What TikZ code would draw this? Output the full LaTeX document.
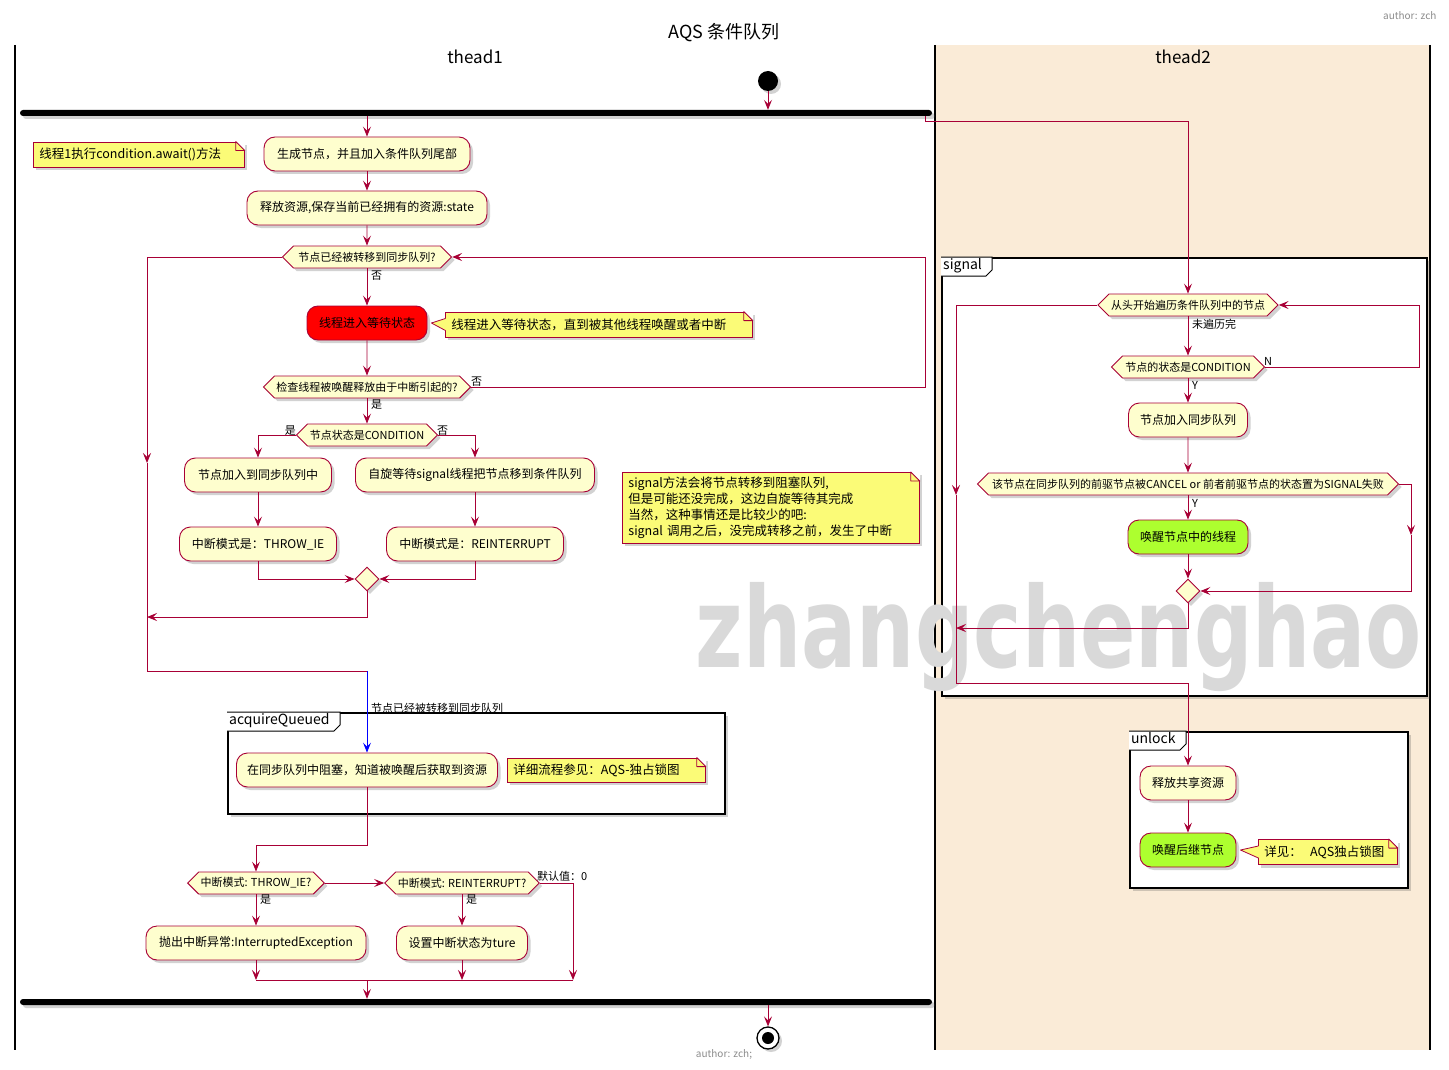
\documentclass[tikz,border=0pt]{standalone}
\usepackage{fontspec}
\setmainfont{Noto Sans CJK SC}
\newfontfamily\wmfont{DejaVu Sans}
\usetikzlibrary{arrows.meta,shapes.symbols,shapes.geometric,shadows,calc}
\definecolor{crim}{HTML}{A80036}
\definecolor{actfill}{HTML}{FEFECE}
\definecolor{notefill}{HTML}{FBFB77}
\definecolor{lanebg}{HTML}{FAEBD7}
\definecolor{grnfill}{HTML}{ADFF2F}
\definecolor{wmgray}{HTML}{D9D9D9}
\tikzset{
  shad/.style={drop shadow={shadow xshift=3pt,shadow yshift=-3pt,opacity=0.25,fill=black!70}},
  act/.style={draw=crim, fill=actfill, rounded corners=11pt, line width=0.9pt,
    minimum height=34pt, inner xsep=4pt, inner ysep=2pt, font=\fontsize{12}{14}\selectfont, shad},
  hexa/.style={signal, signal to=east and west, signal pointer angle=90, draw=crim, fill=actfill,
    line width=0.9pt, minimum height=22pt, inner xsep=2pt, inner ysep=1pt,
    font=\fontsize{11}{13}\selectfont, shad},
  merge/.style={diamond, draw=crim, fill=actfill, line width=0.9pt, minimum width=24pt,
    minimum height=24pt, inner sep=0pt, shad},
  notebox/.style={fill=notefill, draw=crim, line width=0.8pt, inner xsep=6pt, inner ysep=4pt,
    minimum height=25pt, font=\fontsize{12.5}{16}\selectfont, align=left, shad},
  bar/.style={fill=black, rounded corners=3pt, minimum width=912pt, minimum height=6pt,
    inner sep=0pt, shad},
  framebox/.style={draw=black, line width=1.6pt, fill=white, inner sep=0pt, shad},
  tabtxt/.style={anchor=north west, inner xsep=2pt, inner ysep=1pt, font=\fontsize{14}{16}\selectfont},
  lbl/.style={inner sep=1pt, font=\fontsize{11}{13}\selectfont},
  ln/.style={draw=crim, line width=0.9pt},
  arr/.style={draw=crim, line width=0.9pt, -{Stealth[length=10pt,width=8pt,inset=4pt]}},
}
\newcommand\notefold[1]{%
  \fill[white] ($(#1.north east)+(-9,0)$) -- ($(#1.north east)+(0.6,-0.6)$) -- ($(#1.north east)+(0,9)$) -- cycle;
  \draw[crim, line width=0.8pt, line join=round]
    ($(#1.north east)+(-9,0)$) -- ($(#1.north east)+(0,9)$) -- ($(#1.north east)+(-9,9)$) -- cycle;
}
\newcommand\notepointer[2]{%
  \fill[notefill] ($(#1.west)+(1,-6)$) -- ($(#2.east)+(4,0)$) -- ($(#1.west)+(1,6)$) -- cycle;
  \draw[crim, line width=0.8pt, line join=round] ($(#1.west)+(0.4,-6)$) -- ($(#2.east)+(4,0)$) -- ($(#1.west)+(0.4,6)$);
}
\begin{document}
\begin{tikzpicture}[x=1pt,y=-1pt]
\useasboundingbox (0,0) rectangle (1449,1070);
\fill[white] (0,0) rectangle (1449,1070);
% swimlanes
\fill[lanebg] (935,45) rectangle (1430,1050);
\draw[line width=1.4pt] (15,45) -- (15,1050);
\draw[line width=1.4pt] (935,45) -- (935,1050);
\draw[line width=1.4pt] (1430,45) -- (1430,1050);
\node[font=\fontsize{18}{20}\selectfont] (title) at (724,33) {AQS 条件队列};
\node[font=\fontsize{10}{12}\selectfont, text=black!45, anchor=east] (authtop) at (1440,16) {author: zch};
\node[font=\fontsize{17}{19}\selectfont] (lane1) at (475,57) {thead1};
\node[font=\fontsize{17}{19}\selectfont] (lane2) at (1183,57) {thead2};

% frames
\node[framebox, anchor=north west, minimum width=485pt, minimum height=438pt] (fSig) at (941,257) {};
\draw[black, line width=1pt, fill=white] (fSig.north west) -- ++(51,0) -- ++(0,13) -- ++(-6,6) -- ++(-45,0);
\node[tabtxt] (tSig) at (fSig.north west) {signal};
\node[framebox, anchor=north west, minimum width=497pt, minimum height=101pt] (fAQ) at (227,712) {};
\draw[black, line width=1pt, fill=white] (fAQ.north west) -- ++(113,0) -- ++(0,13) -- ++(-6,6) -- ++(-107,0);
\node[tabtxt] (tAQ) at (fAQ.north west) {acquireQueued};
\node[framebox, anchor=north west, minimum width=278pt, minimum height=156pt] (fUn) at (1129,731) {};
\draw[black, line width=1pt, fill=white] (fUn.north west) -- ++(57,0) -- ++(0,13) -- ++(-6,6) -- ++(-51,0);
\node[tabtxt] (tUn) at (fUn.north west) {unlock};

% watermark
\node[anchor=base, text=wmgray, inner sep=0pt] (wm) at (1059,667)
  {\scalebox{0.73}[1.0]{\wmfont\bfseries\fontsize{112}{112}\selectfont zhangchenghao}};

% start / bars / end
\node[circle, fill=black, minimum size=20pt, inner sep=0pt, shad] (start) at (768,81) {};
\node[bar] (fork) at (476,113) {};
\node[bar] (join) at (476,1002) {};
\node[circle, draw=black, line width=1.3pt, fill=white, minimum size=22pt, inner sep=0pt, shad] (end) at (768,1038) {};
\node[circle, fill=black, minimum size=12pt, inner sep=0pt] (endin) at (768,1038) {};
\node[font=\fontsize{10}{12}\selectfont, text=black!45] (authbot) at (724,1054) {author: zch;};

% thead1 activities
\node[act, minimum width=206pt] (a1) at (367,154) {生成节点，并且加入条件队列尾部};
\node[act, minimum width=240pt] (a2) at (367,208) {释放资源,保存当前已经拥有的资源:state};
\node[hexa, minimum width=169pt] (h1) at (367,257) {节点已经被转移到同步队列?};
\node[act, fill=red, minimum width=120pt] (a3) at (367,323) {线程进入等待状态};
\node[hexa, minimum width=207pt] (h2) at (367,387) {检查线程被唤醒释放由于中断引起的?};
\node[hexa, minimum width=141pt] (h3) at (367,435) {节点状态是CONDITION};
\node[act, minimum width=147pt] (a4) at (258,475) {节点加入到同步队列中};
\node[act, minimum width=239pt] (a5) at (475,475) {自旋等待signal线程把节点移到条件队列};
\node[act, minimum width=157pt] (a6) at (258,544) {中断模式是：THROW\_IE};
\node[act, minimum width=177pt] (a7) at (475,544) {中断模式是：REINTERRUPT};
\node[merge] (m1) at (367,579) {};
\node[act, minimum width=261pt] (a8) at (367,770) {在同步队列中阻塞，知道被唤醒后获取到资源};
\node[hexa, minimum width=133pt] (h4) at (256,883) {中断模式: THROW\_IE?};
\node[hexa, minimum width=150pt] (h5) at (462,883) {中断模式: REINTERRUPT?};
\node[act, minimum width=220pt] (a9) at (256,943) {抛出中断异常:InterruptedException};
\node[act, minimum width=131pt] (a10) at (462,943) {设置中断状态为ture};

% thead2 activities
\node[hexa, minimum width=176pt] (h6) at (1188,305) {从头开始遍历条件队列中的节点};
\node[hexa, minimum width=153pt] (h7) at (1188,367) {节点的状态是CONDITION};
\node[act, minimum width=119pt] (a11) at (1188,420) {节点加入同步队列};
\node[hexa, minimum width=421pt] (h8) at (1188,484) {该节点在同步队列的前驱节点被CANCEL or 前者前驱节点的状态置为SIGNAL失败};
\node[act, fill=grnfill, minimum width=120pt] (a12) at (1188,537) {唤醒节点中的线程};
\node[merge] (m2) at (1188,591) {};
\node[act, minimum width=96pt] (a13) at (1188,783) {释放共享资源};
\node[act, fill=grnfill, minimum width=96pt] (a14) at (1188,850) {唤醒后继节点};

% notes
\node[notebox, anchor=west, text width=199pt] (n1) at (33,154.5) {线程1执行condition.await()方法};
\notefold{n1}
\node[notebox, anchor=west, text width=295pt] (n2) at (445,324.5) {线程进入等待状态，直到被其他线程唤醒或者中断};
\notefold{n2}
\notepointer{n2}{a3}
\node[notebox, anchor=north west, text width=285pt, minimum height=71pt] (n3) at (622,472)
  {signal方法会将节点转移到阻塞队列,\\但是可能还没完成，这边自旋等待其完成\\当然，这种事情还是比较少的吧:\\signal 调用之后，没完成转移之前，发生了中断};
\notefold{n3}
\node[notebox, anchor=west, text width=186pt, minimum height=24pt] (n4) at (507,770) {详细流程参见：AQS-独占锁图};
\notefold{n4}
\node[notebox, anchor=west, text width=127pt] (n5) at (1258,852) {详见：~ AQS独占锁图};
\notefold{n5}
\notepointer{n5}{a14}

% coordinates
\coordinate (cF) at (1188,121);
\coordinate (cR1) at (925,257);
\coordinate (cL1) at (147,463);
\coordinate (cL2) at (147,671);
\coordinate (cLm) at (147,617);
\coordinate (cB) at (367,671);
\coordinate (cD) at (573,980);
\coordinate (cJ1) at (256,980);
\coordinate (cJ2) at (462,980);
\coordinate (cJm) at (367,980);
\coordinate (cN) at (1419,305);
\coordinate (cS1) at (1411,535);
\coordinate (cW1) at (956,495);
\coordinate (cW2) at (956,628);
\coordinate (cW3) at (956,683);
\coordinate (cW4) at (1188,683);

% connectors thead1
\draw[arr] (start.south) -- (start.south |- fork.north);
\draw[arr] (fork.south -| a1.north) -- (a1.north);
\draw[arr] ([xshift=-7pt]fork.south east) |- (cF) -- (h6.north);
\draw[arr] (a1) -- (a2);
\draw[arr] (a2) -- (h1);
\draw[arr] (h1.south) -- (a3.north);
\draw[arr] (a3) -- (h2);
\draw[arr] (h2.south) -- (h3.north);
\draw[arr] (h2.east) -| (cR1) -- (h1.east);
\draw[arr] (h3.west) -| (a4.north);
\draw[arr] (h3.east) -| (a5.north);
\draw[arr] (a4) -- (a6);
\draw[arr] (a5) -- (a7);
\draw[arr] (a6.south) |- (m1.west);
\draw[arr] (a7.south) |- (m1.east);
\draw[arr] (h1.west) -| (cL1);
\draw[ln] (cL1) -- (cL2) -- (cB);
\draw[arr] (m1.south) |- (cLm);
\draw[arr, draw=blue] (cB) -- (a8.north);
\draw[arr] (a8.south) -- ++(0,58) -| (h4.north);
\draw[arr] (h4.south) -- (a9.north);
\draw[arr] (h4.east) -- (h5.west);
\draw[arr] (h5.south) -- (a10.north);
\draw[arr] (h5.east) -| (cD);
\draw[arr] (a9.south) -- (cJ1);
\draw[arr] (a10.south) -- (cJ2);
\draw[ln] (cJ1) -- (cD);
\draw[arr] (cJm) -- (cJm |- join.north);
\draw[arr] (end.north |- join.south) -- (end.north);

% connectors thead2
\draw[arr] (h6.south) -- (h7.north);
\draw[arr] (h7.east) -| (cN) -- (h6.east);
\draw[arr] (h7.south) -- (a11.north);
\draw[arr] (a11) -- (h8);
\draw[arr] (h8.south) -- (a12.north);
\draw[arr] (h8.east) -| (cS1);
\draw[arr] (cS1) |- (m2.east);
\draw[arr] (a12) -- (m2);
\draw[arr] (m2.south) |- (cW2);
\draw[arr] (h6.west) -| (cW1);
\draw[ln] (cW1) -- (cW3) -- (cW4);
\draw[arr] (cW4) -- (a13.north);
\draw[arr] (a13) -- (a14);

% edge labels
\node[lbl, anchor=west] (l1) at (370,276) {否};
\node[lbl, anchor=south west] (l2) at (470,388) {否};
\node[lbl, anchor=west] (l3) at (370,405) {是};
\node[lbl, anchor=south east] (l4) at (297,437) {是};
\node[lbl, anchor=south west] (l5) at (436,437) {否};
\node[lbl, anchor=west] (l6) at (370,708) {节点已经被转移到同步队列};
\node[lbl, anchor=west] (l7) at (259,900) {是};
\node[lbl, anchor=west] (l8) at (465,900) {是};
\node[lbl, anchor=south west] (l9) at (536,883) {默认值：0};
\node[lbl, anchor=west] (l10) at (1191,324) {未遍历完};
\node[lbl, anchor=south west] (l11) at (1263,367) {N};
\node[lbl, anchor=west] (l12) at (1191,385) {Y};
\node[lbl, anchor=west] (l13) at (1191,503) {Y};
\end{tikzpicture}
\end{document}
